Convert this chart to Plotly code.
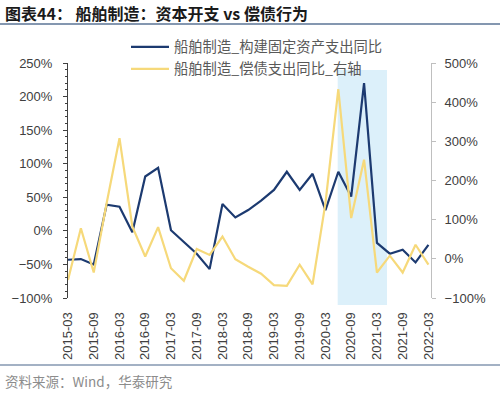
import plotly.graph_objects as go

quarters = ["2015-03", "2015-06", "2015-09", "2015-12", "2016-03", "2016-06", "2016-09", "2016-12",
            "2017-03", "2017-06", "2017-09", "2017-12", "2018-03", "2018-06", "2018-09", "2018-12",
            "2019-03", "2019-06", "2019-09", "2019-12", "2020-03", "2020-06", "2020-09", "2020-12",
            "2021-03", "2021-06", "2021-09", "2021-12", "2022-03"]

capex_yoy = [-43, -42, -50, 39, 36, -2, 81, 94, 1, -17, -34, -57, 40, 20, 31, 45,
             61, 88, 61, 85, 31, 88, 51, 220, -18, -34, -28, -47, -21]

debt_yoy = [-54, 78, -35, 142, 308, 82, 6, 81, -24, -56, 25, 10, 57, -1, -20, -38,
            -67, -69, -15, -65, 142, 433, 104, 253, -35, 8, -35, 36, -15]

name_capex = "船舶制造_构建固定资产支出同比"
name_debt = "船舶制造_偿债支出同比_右轴"
title_text = "图表44： 船舶制造：资本开支 vs 偿债行为"
source_text = "资料来源：Wind，华泰研究"

shade_start = "2020-06"
shade_end = "2021-03"

x_idx = list(range(len(quarters)))
tick_idx = x_idx[::2]
tick_txt = quarters[::2]

# plot-area geometry in pixels (for converting paper coords)
W, H = 500, 397
L, R, T, B = 68, 431, 63, 298
pw, ph = R - L, B - T


def px(x):
    return (x - L) / pw


def py(y):
    return (B - y) / ph


BLUE = "#1c3a70"
YELLOW = "#f6d97a"
AXFONT = dict(family="Liberation Sans, Arial, sans-serif", size=13, color="#404040")
CJK = "Noto Sans CJK SC, sans-serif"

fig = go.Figure()
fig.add_trace(go.Scatter(x=x_idx, y=capex_yoy, name=name_capex, mode="lines",
                         line=dict(color=BLUE, width=2.2), yaxis="y", legend="legend"))
fig.add_trace(go.Scatter(x=x_idx, y=debt_yoy, name=name_debt, mode="lines",
                         line=dict(color=YELLOW, width=2.2), yaxis="y2", legend="legend2"))

ymin, ymax = -100, 250
zero_pos = (0 - ymin) / (ymax - ymin)

fig.update_layout(
    width=W, height=H,
    margin=dict(l=L, r=W - R, t=T, b=H - B, autoexpand=False),
    paper_bgcolor="white", plot_bgcolor="white",
    showlegend=True,
    xaxis=dict(range=[0, len(quarters) - 0.8], tickvals=tick_idx, ticktext=tick_txt,
               tickangle=-90, showline=False, showgrid=False, zeroline=False,
               ticks="outside", ticklen=8, tickcolor="rgba(0,0,0,0)",
               tickfont=AXFONT, automargin=False),
    xaxis2=dict(range=[0, len(quarters) - 0.8], overlaying="x", anchor="free",
                position=zero_pos, tickvals=tick_idx, showticklabels=False,
                showline=True, linecolor="#5a5a5a", linewidth=1,
                ticks="outside", ticklen=4, tickcolor="#5a5a5a",
                showgrid=False, zeroline=False),
    yaxis=dict(range=[ymin, ymax], dtick=50, ticksuffix="%", showgrid=False, zeroline=False,
               showline=True, linecolor="#404040", linewidth=1,
               ticks="outside", ticklen=4, tickcolor="#404040",
               minor=dict(dtick=10, ticks="outside", ticklen=2, tickcolor="#404040"),
               tickfont=AXFONT, ticklabelstandoff=8, automargin=False),
    yaxis2=dict(range=[-100, 500], dtick=100, ticksuffix="%", overlaying="y", side="right",
                showgrid=False, zeroline=False, showline=True, linecolor="#bfbfbf",
                ticks="outside", ticklen=4, tickcolor="#bfbfbf",
                tickfont=AXFONT, ticklabelstandoff=6, automargin=False),
    legend=dict(x=px(126), y=py(47), xanchor="left", yanchor="middle",
                bgcolor="rgba(0,0,0,0)", itemwidth=38,
                font=dict(family=CJK, size=14.3, color="#595959")),
    legend2=dict(x=px(126), y=py(69), xanchor="left", yanchor="middle",
                 bgcolor="rgba(0,0,0,0)", itemwidth=38,
                 font=dict(family=CJK, size=14.3, color="#595959")),
)

i0 = quarters.index(shade_start)
i1 = quarters.index(shade_end)
fig.add_shape(type="rect", xref="x", yref="paper", x0=i0 - 0.05, x1=i1 + 0.78,
              y0=py(305), y1=py(70), fillcolor="#dcf0fa", line=dict(width=0), layer="below")

# title and separators
fig.add_annotation(text="<b>" + title_text + "</b>", xref="paper", yref="paper",
                   x=px(3), y=py(13), xanchor="left", yanchor="middle", showarrow=False,
                   font=dict(family=CJK, size=16, color="#1a1a1a"))
fig.add_shape(type="line", xref="paper", yref="paper", x0=px(0), x1=px(500),
              y0=py(24), y1=py(24), line=dict(color="#8497b0", width=2))
fig.add_shape(type="line", xref="paper", yref="paper", x0=px(0), x1=px(500),
              y0=py(365), y1=py(365), line=dict(color="#8497b0", width=1.5))
fig.add_annotation(text=source_text, xref="paper", yref="paper",
                   x=px(3), y=py(381), xanchor="left", yanchor="middle", showarrow=False,
                   font=dict(family=CJK, size=13.5, color="#8c8c8c"))

fig.write_html("out.html", config={"displayModeBar": False},
               post_script="document.body.style.margin='0';document.body.style.overflow='hidden';")
